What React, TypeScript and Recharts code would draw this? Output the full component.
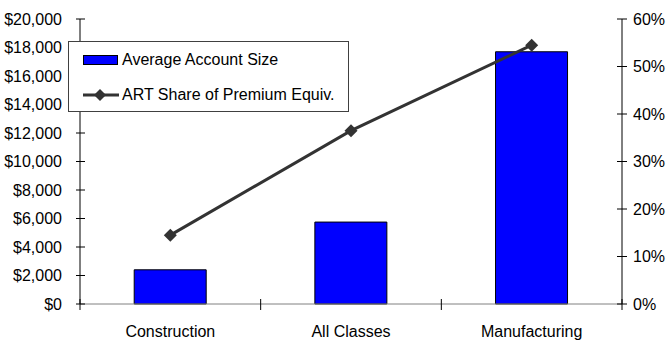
import React from "react";
import { ComposedChart, Bar, Line, XAxis, YAxis, Legend } from "recharts";

// categories along the bottom
const categories = ["Construction", "All Classes", "Manufacturing"];
// average account size in dollars (left axis)
const avgAccountSize = [2400, 5750, 17700];
// ART share of premium equivalent in percent (right axis)
const artShare = [14.5, 36.5, 54.5];

const dollarTicks = [0, 2000, 4000, 6000, 8000, 10000, 12000, 14000, 16000, 18000, 20000];
const pctTicks = [0, 10, 20, 30, 40, 50, 60];

const data = categories.map((name, i) => ({
  name,
  size: avgAccountSize[i],
  share: artShare[i],
}));

const W = 666;
const H = 345;
const LEFT_W = 80;
const RIGHT_W = 44;
const TOP = 19;
const X_AXIS_H = 41;
const FONT = "'Liberation Sans', Arial, sans-serif";
const FONT_SIZE = 16;
const LINE_COLOR = "#333333";

const band = (W - LEFT_W - RIGHT_W) / categories.length;

const LeftTick = (props: any) => {
  const { x, y, payload } = props;
  return (
    <g>
      <line x1={x - 4} x2={x + 5} y1={y} y2={y} stroke="#000" />
      <text x={x - 18} y={y} dy="0.355em" textAnchor="end" fill="#000" fontFamily={FONT} fontSize={FONT_SIZE}>
        {`$${Number(payload.value).toLocaleString("en-US")}`}
      </text>
    </g>
  );
};

const RightTick = (props: any) => {
  const { x, y, payload } = props;
  return (
    <g>
      <line x1={x - 5} x2={x + 5} y1={y} y2={y} stroke="#000" />
      <text x={x + 11} y={y} dy="0.355em" textAnchor="start" fill="#000" fontFamily={FONT} fontSize={FONT_SIZE}>
        {`${payload.value}%`}
      </text>
    </g>
  );
};

const CategoryTick = (props: any) => {
  const { x, y, payload, index } = props;
  const last = index === categories.length - 1;
  return (
    <g>
      <line x1={x - band / 2} x2={x - band / 2} y1={y - 5} y2={y + 6} stroke="#000" />
      {last && <line x1={x + band / 2} x2={x + band / 2} y1={y - 5} y2={y + 6} stroke="#000" />}
      <text x={x} y={y + 33} textAnchor="middle" fill="#000" fontFamily={FONT} fontSize={FONT_SIZE}>
        {payload.value}
      </text>
    </g>
  );
};

const Diamond = (props: any) => {
  const { cx, cy } = props;
  if (cx == null || cy == null) return null;
  const r = 6.5;
  return (
    <polygon
      points={`${cx},${cy - r} ${cx + r},${cy} ${cx},${cy + r} ${cx - r},${cy}`}
      fill={LINE_COLOR}
      stroke="none"
    />
  );
};

const LegendBox = () => {
  const row: React.CSSProperties = {
    display: "flex",
    alignItems: "center",
    height: 35,
    paddingLeft: 14,
  };
  const label: React.CSSProperties = {
    fontFamily: FONT,
    fontSize: FONT_SIZE,
    color: "#000",
    marginLeft: 3,
    whiteSpace: "nowrap",
  };
  return (
    <div
      style={{
        width: 281,
        height: 71,
        boxSizing: "border-box",
        border: "1px solid #404040",
        background: "#fff",
      }}
    >
      <div style={row}>
        <svg width={36} height={12}>
          <rect x={0.5} y={1.5} width={34} height={9} fill="#0000ff" stroke="#000" />
        </svg>
        <span style={label}>Average Account Size</span>
      </div>
      <div style={row}>
        <svg width={36} height={14}>
          <line x1={0} x2={36} y1={7} y2={7} stroke={LINE_COLOR} strokeWidth={3} />
          <polygon points="17,1 23,7 17,13 11,7" fill={LINE_COLOR} />
        </svg>
        <span style={label}>ART Share of Premium Equiv.</span>
      </div>
    </div>
  );
};

export default function App() {
  return (
    <div style={{ position: "absolute", left: 0, top: 0, width: W, height: H, background: "#fff" }}>
      <ComposedChart
        width={W}
        height={H}
        data={data}
        margin={{ top: TOP, right: 0, bottom: 0, left: 0 }}
        barCategoryGap="30%"
      >
        <XAxis
          dataKey="name"
          height={X_AXIS_H}
          tickSize={0}
          tickMargin={0}
          tickLine={false}
          axisLine={{ stroke: "#808080" }}
          tick={<CategoryTick />}
          interval={0}
        />
        <YAxis
          yAxisId="left"
          orientation="left"
          width={LEFT_W}
          domain={[0, 20000]}
          ticks={dollarTicks}
          interval={0}
          tickSize={0}
          tickMargin={0}
          tickLine={false}
          axisLine={{ stroke: "#000" }}
          tick={<LeftTick />}
        />
        <YAxis
          yAxisId="right"
          orientation="right"
          width={RIGHT_W}
          domain={[0, 60]}
          ticks={pctTicks}
          interval={0}
          tickSize={0}
          tickMargin={0}
          tickLine={false}
          axisLine={{ stroke: "#000" }}
          tick={<RightTick />}
        />
        <Legend
          layout="vertical"
          align="center"
          verticalAlign="middle"
          content={<LegendBox />}
          wrapperStyle={{ left: 68, top: 41, width: 281, height: 71 }}
        />
        <Bar
          yAxisId="left"
          dataKey="size"
          name="Average Account Size"
          fill="#0000ff"
          stroke="#000"
          strokeWidth={1}
          isAnimationActive={false}
        />
        <Line
          yAxisId="right"
          type="linear"
          dataKey="share"
          name="ART Share of Premium Equiv."
          stroke={LINE_COLOR}
          strokeWidth={3}
          dot={<Diamond />}
          activeDot={false}
          isAnimationActive={false}
        />
      </ComposedChart>
    </div>
  );
}
